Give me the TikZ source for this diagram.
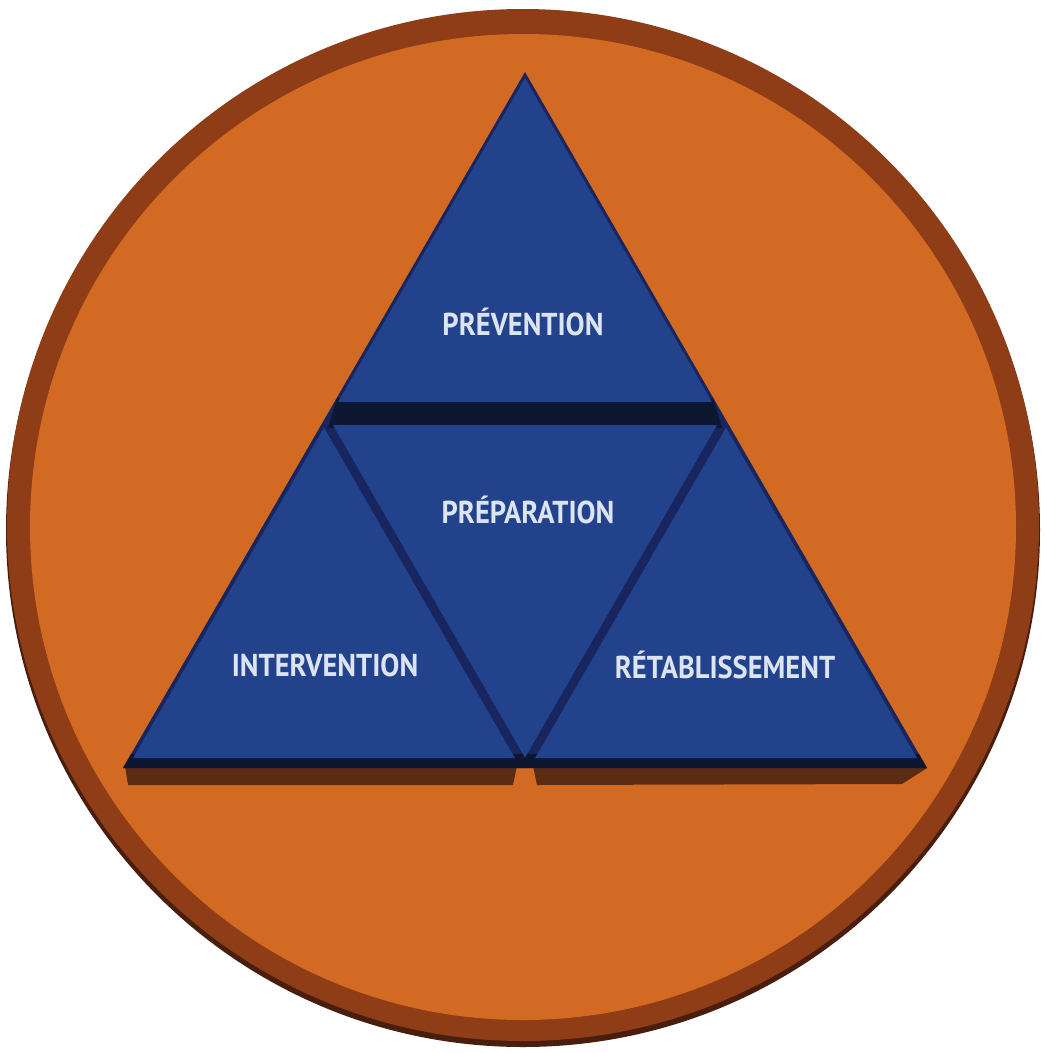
\documentclass[tikz,border=0pt]{standalone}
\usepackage{fontspec}
\setmainfont{PT Sans}
\usetikzlibrary{calc}
\definecolor{rimdark}{HTML}{4A1E0E}
\definecolor{rim}{HTML}{8E3D16}
\definecolor{disc}{HTML}{D36A24}
\definecolor{tri}{HTML}{23428C}
\definecolor{triedge}{HTML}{18255E}
\definecolor{band}{HTML}{0E1732}
\definecolor{slab}{HTML}{5C2C12}
\definecolor{label}{HTML}{DCE4F2}
\tikzset{
  face/.style={fill=tri, draw=none},
  gap/.style={fill=triedge, draw=none},
  base/.style={fill=slab, draw=none},
  phase/.style={font=\fontsize{9}{10}\selectfont\bfseries, text=label, inner sep=0pt, xscale=0.9, transform shape},
}

\begin{document}
\begin{tikzpicture}
\useasboundingbox (0,0) rectangle (10.45,-10.53);

% ---------------- disc ----------------
\fill[rimdark] (5.23,-5.30) circle (5.17);
\fill[rim] (5.23,-5.25) circle (5.16);
\fill[disc] (5.23,-5.27) circle (4.93);

% ---------------- corners of the pyramid ----------------
\coordinate (A) at (5.25,-0.72);
\coordinate (L) at (1.23,-7.68);
\coordinate (R) at (9.27,-7.68);
\coordinate (ML) at ($(A)!0.5!(L)$);
\coordinate (MR) at ($(A)!0.5!(R)$);
\coordinate (MB) at ($(L)!0.5!(R)$);

% ---------------- base slab ----------------
\fill[base] (1.25,-7.66) -- (5.17,-7.66) -- (5.13,-7.85) -- (1.28,-7.85) -- cycle;
\fill[base] (5.33,-7.66) -- (9.27,-7.68) -- (9.02,-7.84) -- (5.37,-7.85) -- cycle;
\fill[gap] (A) -- (L) -- (R) -- cycle;
\fill[band] (L) -- (R) -- ($(R)+(-0.08,0.14)$) -- ($(L)+(0.08,0.14)$) -- cycle;
\fill[band] ($(ML)+(0.13,0.22)$) -- ($(MR)+(-0.13,0.22)$) -- ($(MR)+(-0.04,-0.08)$) -- ($(ML)+(0.04,-0.08)$) -- cycle;

% ---------------- four faces ----------------
\foreach \a/\b/\c/\s/\dy in {A/ML/MR/0.93/0.10, ML/MR/MB/0.955/0, ML/L/MB/0.95/0.04, MR/MB/R/0.95/0.04} {
  \coordinate (g) at ($0.3333*(\a)+0.3333*(\b)+0.3333*(\c)$);
  \fill[face] ($(g)!\s!(\a)+(0,\dy)$) -- ($(g)!\s!(\b)+(0,\dy)$) -- ($(g)!\s!(\c)+(0,\dy)$) -- cycle;
}

% ---------------- labels ----------------
\node[phase] (prev) at (5.23,-3.22) {PRÉVENTION};
\node[phase] (prep) at (5.28,-5.10) {PRÉPARATION};
\node[phase] (inter) at (3.25,-6.65) {INTERVENTION};
\node[phase] (retab) at (7.25,-6.65) {RÉTABLISSEMENT};

\end{tikzpicture}
\end{document}
